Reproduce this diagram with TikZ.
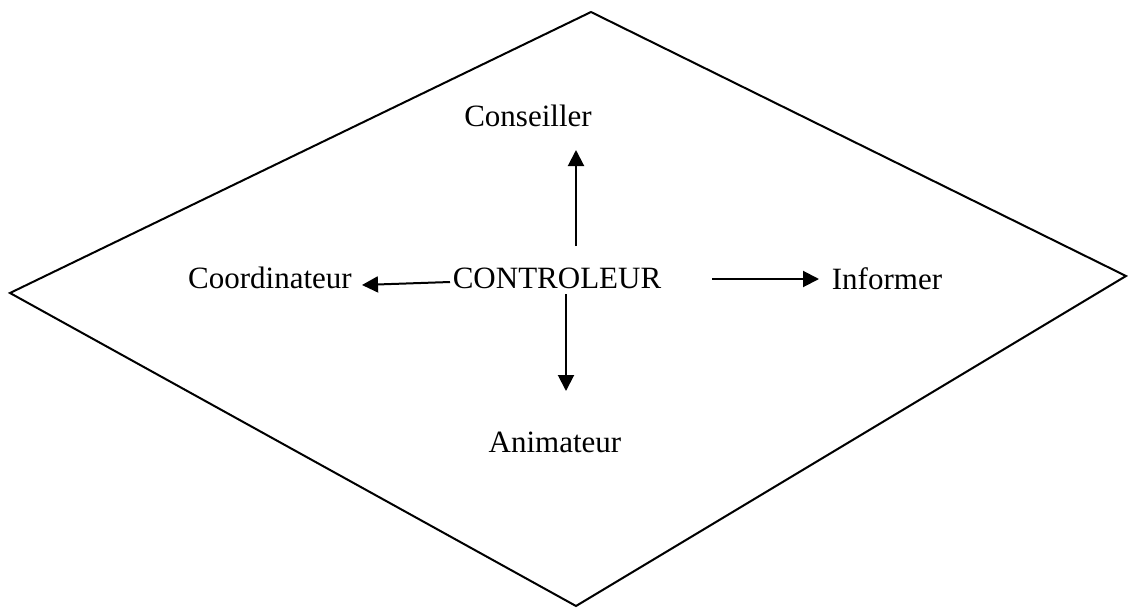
\documentclass[tikz,border=0pt]{standalone}
\usepackage{fontspec}
\setmainfont{Liberation Serif}
\usetikzlibrary{arrows.meta}
\begin{document}
\begin{tikzpicture}[x=1pt,y=-1pt,
  lbl/.style={inner sep=0pt,anchor=base,font=\fontsize{31}{36}\selectfont},
  edge/.style={line width=2pt,line join=miter},
  arr/.style={line width=2pt,-{Triangle[length=16pt,width=16pt]}}]
\useasboundingbox (0,0) rectangle (1128,608);
% outer diamond
\coordinate (top) at (591,12);
\coordinate (right) at (1126,276);
\coordinate (bottom) at (576,606);
\coordinate (left) at (10,293);
\draw[edge] (top) -- (right) -- (bottom) -- (left) -- cycle;
% labels
\node[lbl] (ctrl) at (557,288) {CONTROLEUR};
\node[lbl] (cons) at (528,126) {Conseiller};
\node[lbl] (coord) at (270,288) {Coordinateur};
\node[lbl] (info) at (887,289) {Informer};
\node[lbl] (anim) at (555,452) {Animateur};
% arrow ends
\coordinate (upS) at (576,246);
\coordinate (upE) at (576,150);
\coordinate (lfS) at (450,282);
\coordinate (lfE) at (362,285);
\coordinate (rtS) at (712,279);
\coordinate (rtE) at (819,279);
\coordinate (dnS) at (566,294);
\coordinate (dnE) at (566,391);
\draw[arr] (upS) -- (upE);
\draw[arr] (lfS) -- (lfE);
\draw[arr] (rtS) -- (rtE);
\draw[arr] (dnS) -- (dnE);
\end{tikzpicture}
\end{document}
